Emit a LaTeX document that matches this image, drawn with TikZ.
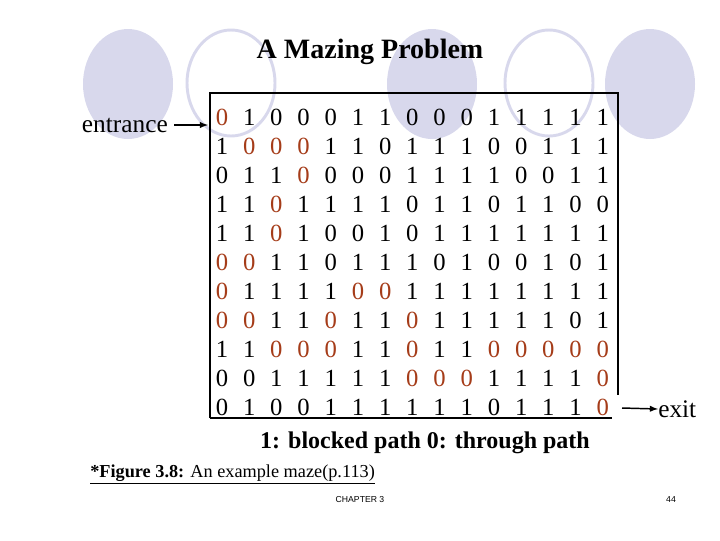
\documentclass[tikz,border=0pt]{standalone}
\usepackage{fontspec}
\setmainfont{Liberation Serif}
\newfontfamily\sansf{Liberation Sans}
\begin{document}
\begin{tikzpicture}[x=0.75pt,y=-0.75pt,
  dg/.style={font=\fontsize{18.5}{20}\selectfont,inner sep=0pt,anchor=center},
  rd/.style={dg,text={rgb,255:red,165;green,60;blue,25}},
  circ/.style={fill={rgb,255:red,216;green,216;blue,236}},
  ocirc/.style={draw={rgb,255:red,216;green,216;blue,236},line width=2.2pt},
  lbl/.style={font=\fontsize{19}{21}\selectfont,inner sep=0pt},
  arr/.style={-latex,line width=1.1pt}]
\useasboundingbox (0,0) rectangle (720,540);
\fill[circ] (128,84) ellipse [x radius=45,y radius=55];
\draw[ocirc] (231,83) ellipse [x radius=44,y radius=53];
\fill[circ] (432,84) ellipse [x radius=45,y radius=55];
\draw[ocirc] (549,83) ellipse [x radius=44,y radius=53];
\fill[circ] (650,84) ellipse [x radius=45,y radius=55];
\node[font=\fontsize{21}{24}\selectfont\bfseries] (title) at (370,52) {A Mazing Problem};
\draw[line width=0.8pt] (210,418) -- (210,93) -- (618,93) -- (618,395);
\draw[line width=0.8pt] (210,418) -- (612,418);
\foreach \r/\c in {1/1,2/2,2/3,2/4,3/4,4/3,5/3,6/1,6/2,7/1,7/6,7/7,8/1,8/2,8/5,8/8,
  9/3,9/4,9/5,9/8,9/11,9/12,9/13,9/14,9/15,10/8,10/9,10/10,10/15,11/15}{
  \expandafter\xdef\csname redcell-\r-\c\endcsname{1}
}
\foreach \row [count=\r] in {
 {0,1,0,0,0,1,1,0,0,0,1,1,1,1,1},
 {1,0,0,0,1,1,0,1,1,1,0,0,1,1,1},
 {0,1,1,0,0,0,0,1,1,1,1,0,0,1,1},
 {1,1,0,1,1,1,1,0,1,1,0,1,1,0,0},
 {1,1,0,1,0,0,1,0,1,1,1,1,1,1,1},
 {0,0,1,1,0,1,1,1,0,1,0,0,1,0,1},
 {0,1,1,1,1,0,0,1,1,1,1,1,1,1,1},
 {0,0,1,1,0,1,1,0,1,1,1,1,1,0,1},
 {1,1,0,0,0,1,1,0,1,1,0,0,0,0,0},
 {0,0,1,1,1,1,1,0,0,0,1,1,1,1,0},
 {0,1,0,0,1,1,1,1,1,1,0,1,1,1,0}}{
  \foreach \v [count=\c] in \row {
    \ifcsname redcell-\r-\c\endcsname
      \node[rd] (m-\r-\c) at ({222+27.2*(\c-1)},{117+29*(\r-1)}) {\v};
    \else
      \node[dg] (m-\r-\c) at ({222+27.2*(\c-1)},{117+29*(\r-1)}) {\v};
    \fi
  }
}
\node[lbl,anchor=east] (ent) at (168,125) {entrance};
\coordinate (entend) at (208,125);
\draw[arr] (ent.east) ++(6,0) -- (entend);
\coordinate (exs) at (622,408);
\node[lbl,anchor=west] (exit) at (658,409) {exit};
\draw[arr] (exs) -- (exit.west);
\node[font=\fontsize{18}{21}\selectfont\bfseries] (legend) at (425,443) {1: blocked path 0: through path};
\node[font=\fontsize{13.7}{16}\selectfont,anchor=west,inner sep=0pt] (cap) at (90,474) {\underline{\textbf{*Figure 3.8:} An example maze(p.113)}};
\node[font=\sansf\fontsize{6.5}{8}\selectfont] (ch) at (360,500) {CHAPTER 3};
\node[font=\sansf\fontsize{6.5}{8}\selectfont] (pg) at (671,500) {44};
\end{tikzpicture}
\end{document}
